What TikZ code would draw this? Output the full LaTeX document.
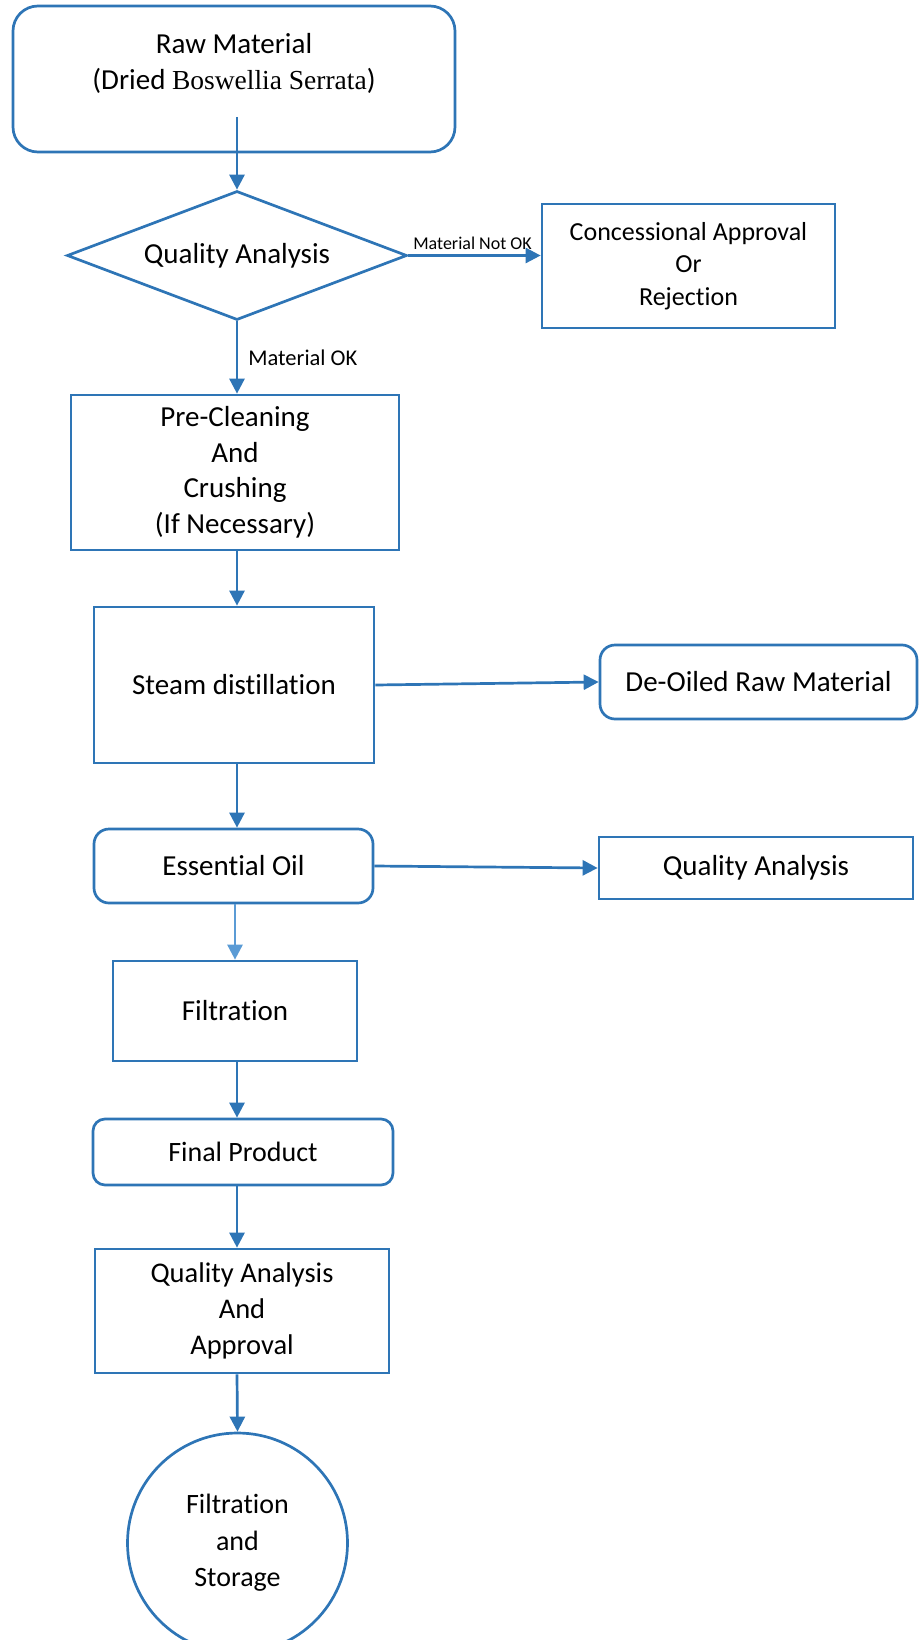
\documentclass[tikz,border=0pt]{standalone}
\usepackage{fontspec}
\setmainfont{Carlito}[RawFeature={-liga;-clig;-calt;-dlig}]
\newfontfamily\bosfont{Liberation Serif}
\usepackage{tikz}
\usetikzlibrary{arrows.meta, shapes.geometric}
\definecolor{flowblue}{HTML}{2E75B6}
\definecolor{paleblue}{HTML}{5B9BD5}

\begin{document}
\begin{tikzpicture}[x=1pt, y=-1pt]
\tikzstyle{box}=[rectangle, draw=flowblue, line width=2.7pt, inner sep=0pt, align=center, font=\fontsize{29}{35.5}\selectfont]
\tikzstyle{softbox}=[box, rounded corners=15pt]
\tikzstyle{decision}=[diamond, draw=flowblue, line width=2.7pt, inner sep=0pt, aspect=2.64, font=\fontsize{29}{35.5}\selectfont]
\tikzstyle{terminal}=[circle, draw=flowblue, line width=2.7pt, inner sep=0pt, align=center, font=\fontsize{28}{36.5}\selectfont]
\tikzstyle{flow}=[draw=flowblue, line width=2.7pt, -{Triangle[length=15pt, width=15pt]}]
\useasboundingbox (0,0) rectangle (922,1640);

\node[box, rounded corners=25pt, minimum width=442pt, minimum height=146pt] (raw) at (234,79)
  {Raw Material\\(Dried {\bosfont\fontsize{27.5}{35.5}\selectfont Boswellia Serrata})\\\mbox{}};
\coordinate (rawout) at (237,117);
\node[decision, minimum width=340pt, minimum height=129pt] (qa1) at (237,255.5) {Quality Analysis};
\node[box, minimum width=293pt, minimum height=124pt, font=\fontsize{26}{32.5}\selectfont] (reject) at (688.5,266)
  {Concessional Approval\\Or\\Rejection};
\node[box, minimum width=328pt, minimum height=155pt] (preclean) at (235,472.5)
  {Pre-Cleaning\\And\\Crushing\\(If Necessary)};
\node[box, minimum width=280pt, minimum height=156pt] (steam) at (234,685) {Steam distillation};
\node[softbox, minimum width=317pt, minimum height=74pt] (deoil) at (758.5,682) {De-Oiled Raw Material};
\node[softbox, minimum width=279pt, minimum height=74pt] (oil) at (233.5,866) {Essential Oil};
\node[box, minimum width=314pt, minimum height=62pt] (qa2) at (756,868) {Quality Analysis};
\node[box, minimum width=244pt, minimum height=100pt] (filt) at (235,1011) {Filtration};
\node[softbox, rounded corners=12pt, minimum width=300pt, minimum height=66pt, font=\fontsize{28}{35}\selectfont] (final) at (243,1152) {Final Product};
\node[box, minimum width=294pt, minimum height=124pt, font=\fontsize{28.5}{36}\selectfont] (qa3) at (242,1311)
  {Quality Analysis\\And\\Approval};
\node[terminal, minimum size=220pt] (store) at (237.5,1543) {Filtration\\and\\Storage};

\path
(rawout) edge[flow] (qa1.north)
(qa1.east) edge[flow] node[above, font=\fontsize{18}{20}\selectfont, inner sep=5pt, xshift=-2pt] {Material Not OK} (qa1.east -| reject.west)
(qa1.south) edge[flow] node[right, font=\fontsize{22.5}{26}\selectfont, inner sep=10pt] {Material OK} (preclean.north -| qa1)
(preclean.south -| qa1) edge[flow] (steam.north -| qa1)
(steam.east) edge[flow] (deoil.west)
(steam.south -| qa1) edge[flow] (oil.north -| qa1)
(oil.east) edge[flow] (qa2.west)
(oil.south -| filt) edge[flow, draw=paleblue] (filt.north)
(filt.south -| qa1) edge[flow] (final.north -| qa1)
(final.south -| qa1) edge[flow] (qa3.north -| qa1)
(qa3.south -| qa1) edge[flow] (store.north);

\end{tikzpicture}
\end{document}
